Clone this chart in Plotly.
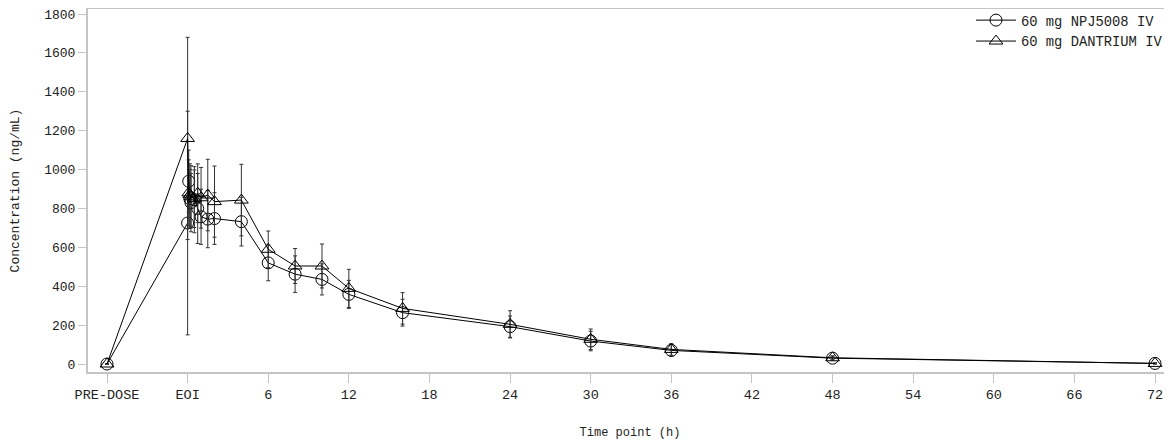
import plotly.graph_objects as go

# Time points (h); PRE-DOSE plotted at -6, EOI at 0
time_h = [-6, 0, 0.083, 0.167, 0.25, 0.5, 0.75, 1, 1.5, 2, 4, 6, 8, 10, 12, 16, 24, 30, 36, 48, 72]

npj_mean = [0, 725, 940, 850, 830, 845, 800, 757, 745, 748, 732, 520, 462, 435, 358, 264, 192, 118, 70, 30, 3]
npj_sd = [0, 575, 160, 150, 150, 170, 180, 142, 147, 133, 125, 92, 94, 80, 72, 69, 55, 50, 30, 10, 3]

dan_mean = [0, 1160, 880, 870, 860, 850, 878, 855, 869, 835, 843, 590, 504, 504, 389, 286, 204, 127, 75, 32, 3]
dan_sd = [0, 520, 170, 160, 160, 148, 151, 156, 184, 183, 184, 94, 90, 113, 98, 81, 70, 53, 30, 10, 3]

x_tick_vals = [-6, 0, 6, 12, 18, 24, 30, 36, 42, 48, 54, 60, 66, 72]
x_tick_text = ["PRE-DOSE", "EOI", "6", "12", "18", "24", "30", "36", "42", "48", "54", "60", "66", "72"]
y_tick_vals = [0, 200, 400, 600, 800, 1000, 1200, 1400, 1600, 1800]

FONT = "Liberation Mono, Courier New, monospace"
TXT = "#222222"
AX = "#c4c4c4"

fig = go.Figure()
fig.add_trace(go.Scatter(
    x=time_h, y=npj_mean, name="60 mg NPJ5008 IV", mode="lines+markers",
    line=dict(color="black", width=1),
    marker=dict(symbol="circle-open", size=12, color="black", line=dict(width=1, color="black")),
    error_y=dict(type="data", array=npj_sd, symmetric=True, color="#333333", thickness=1, width=2),
))
fig.add_trace(go.Scatter(
    x=time_h, y=dan_mean, name="60 mg DANTRIUM IV", mode="lines+markers",
    line=dict(color="black", width=1),
    marker=dict(symbol="triangle-up-open", size=12, color="black", line=dict(width=1, color="black")),
    error_y=dict(type="data", array=dan_sd, symmetric=True, color="#333333", thickness=1, width=2),
))

fig.update_layout(
    width=1164, height=434,
    margin=dict(l=80, r=0, t=1, b=70, autoexpand=False),
    paper_bgcolor="white", plot_bgcolor="white",
    font=dict(family=FONT, size=13, color=TXT),
    showlegend=True,
    legend=dict(x=0.9963, xanchor="right", y=1.012, yanchor="top",
                bgcolor="rgba(0,0,0,0)", font=dict(family=FONT, size=13.8, color=TXT),
                tracegroupgap=0, itemwidth=40),
    xaxis=dict(
        range=[-7.414, 73.265], tickmode="array", tickvals=x_tick_vals, ticktext=x_tick_text,
        showgrid=False, zeroline=False, showline=True, linecolor=AX, linewidth=2, mirror=True,
        ticks="outside", ticklen=9, tickcolor=AX, tickwidth=1, automargin=False,
        ticklabeloverflow="allow",
        tickfont=dict(family=FONT, size=13.5, color=TXT),
        title=dict(text="Time point (h)", font=dict(family=FONT, size=12, color=TXT), standoff=25),
    ),
    yaxis=dict(
        range=[-41.1, 1825.7], tickmode="array", tickvals=y_tick_vals,
        showgrid=False, zeroline=False, showline=True, linecolor=AX, linewidth=2,
        ticks="outside", ticklen=8, tickcolor=AX, tickwidth=1, automargin=False,
        ticklabeloverflow="allow",
        tickfont=dict(family=FONT, size=13, color=TXT),
        title=dict(text="Concentration (ng/mL)", font=dict(family=FONT, size=13, color=TXT), standoff=22),
    ),
)

fig.write_html("out.html")
